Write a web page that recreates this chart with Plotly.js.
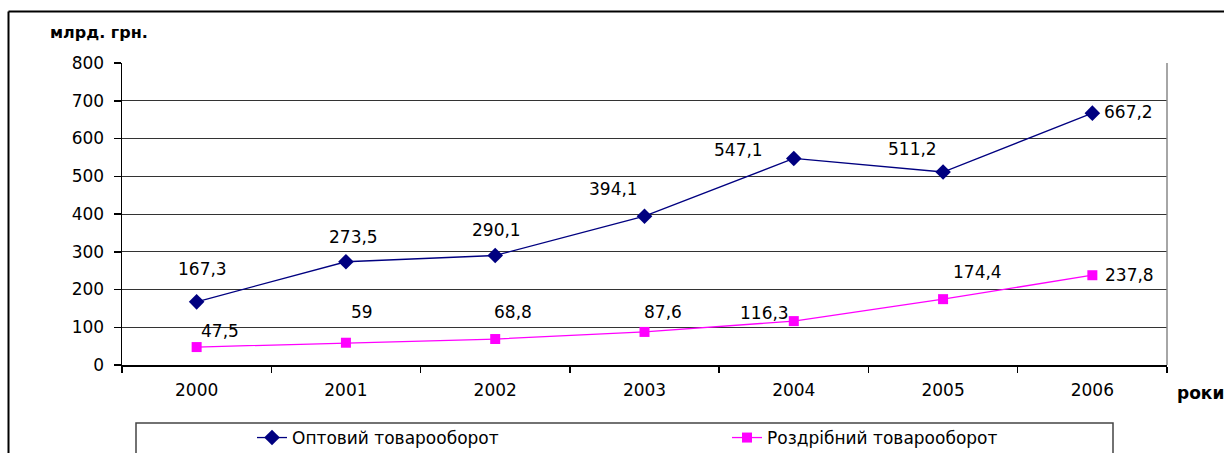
<!DOCTYPE html>
<html>
<head>
<meta charset="utf-8">
<script src="https://cdn.plot.ly/plotly-3.0.1.min.js"></script>
<style>html,body{margin:0;padding:0;background:#fff;}</style>
</head>
<body>
<div id="chart" style="width:1224px;height:453px;"></div>
<script>
const years = ['2000','2001','2002','2003','2004','2005','2006'];
const wholesale = [167.3, 273.5, 290.1, 394.1, 547.1, 511.2, 667.2];
const retail = [47.5, 59, 68.8, 87.6, 116.3, 174.4, 237.8];
const wholesaleName = 'Оптовий товарооборот';
const retailName = 'Роздрібний товарооборот';
const yTitle = 'млрд. грн.';
const xTitle = 'роки';

// label offsets in pixels (style, not data)
const wOff = [[6,-33],[8,-25],[1,-25],[-31,-27],[-55,-8],[-31,-23],[36,-1]];
const rOff = [[23,-16],[16,-31],[18,-27],[18,-20],[-29,-8],[34,-27],[37,0]];

const fmt = v => String(v).replace('.', ',');
const FONT = 'DejaVu Sans, Liberation Sans, Arial, sans-serif';
const FS = 17;
const L = 122, R = 1167, T = 63, B = 365;
const px = x => (x - L) / (R - L);
const py = y => (B - y) / (B - T);

const annotations = [];
wholesale.forEach((v,i) => annotations.push({x: i, y: v, xref:'x', yref:'y', text: fmt(v), showarrow:false,
  xshift: wOff[i][0], yshift: -wOff[i][1], font:{family:FONT, size:FS, color:'#000'}}));
retail.forEach((v,i) => annotations.push({x: i, y: v, xref:'x', yref:'y', text: fmt(v), showarrow:false,
  xshift: rOff[i][0], yshift: -rOff[i][1], font:{family:FONT, size:FS, color:'#000'}}));
annotations.push({x: px(48), y: py(32), xref:'paper', yref:'paper', xanchor:'left', yanchor:'middle', showarrow:false,
  text:'<b>'+yTitle+'</b>', font:{family:FONT, size:16, color:'#000'}});
annotations.push({x: px(1175), y: py(393), xref:'paper', yref:'paper', xanchor:'left', yanchor:'middle', showarrow:false,
  text:'<b>'+xTitle+'</b>', font:{family:FONT, size:17, color:'#000'}});

const shapes = [
  {type:'line', xref:'paper', yref:'paper', x0:px(1167), x1:px(1167), y0:0, y1:1, line:{color:'#888', width:1.5}},
  {type:'rect', xref:'paper', yref:'paper', x0:px(136), x1:px(1113), y0:py(456), y1:py(423), line:{color:'#444', width:1.5}, fillcolor:'rgba(0,0,0,0)'},
  {type:'line', xref:'paper', yref:'paper', x0:px(8.5), x1:px(8.5), y0:py(470), y1:py(11.5), line:{color:'#000', width:2}},
  {type:'line', xref:'paper', yref:'paper', x0:px(8.5), x1:px(1240), y0:py(11.5), y1:py(11.5), line:{color:'#000', width:2}}
];

const data = [
  {x: years, y: wholesale, name: wholesaleName, type:'scatter', mode:'lines+markers',
   line:{color:'#000080', width:1.3}, marker:{symbol:'diamond', size:12, color:'#000080'}},
  {x: years, y: retail, name: retailName, type:'scatter', mode:'lines+markers',
   line:{color:'#FF00FF', width:1.3}, marker:{symbol:'square', size:10, color:'#FF00FF'}}
];

const layout = {
  width:1224, height:453,
  margin:{l:L, r:1224-R, t:T, b:453-B, pad:0, autoexpand:false},
  paper_bgcolor:'#fff', plot_bgcolor:'#fff',
  font:{family:FONT, size:FS, color:'#000'},
  showlegend:true,
  legend:{orientation:'h', x:px(252), y:py(438), xanchor:'left', yanchor:'middle',
    bgcolor:'rgba(0,0,0,0)', borderwidth:0, entrywidth:430, font:{family:FONT, size:FS, color:'#000'}},
  xaxis:{type:'category', range:[-0.5,6.5], showgrid:false, showline:true, linecolor:'#000', linewidth:1.5,
    ticks:'outside', tickson:'boundaries', ticklen:6, tickcolor:'#000', tickwidth:1.5,
    ticklabelstandoff:9, tickfont:{family:FONT, size:FS, color:'#000'}, fixedrange:true},
  yaxis:{range:[0,800], dtick:100, tick0:0, showgrid:true, gridcolor:'#333', gridwidth:1,
    showline:true, linecolor:'#000', linewidth:1.5, zeroline:false,
    ticks:'outside', ticklen:7, tickcolor:'#000', tickwidth:1.5, ticklabelstandoff:6,
    tickfont:{family:FONT, size:FS, color:'#000'}, fixedrange:true},
  annotations: annotations,
  shapes: shapes
};

Plotly.newPlot('chart', data, layout, {staticPlot:true, displayModeBar:false});
</script>
</body>
</html>
